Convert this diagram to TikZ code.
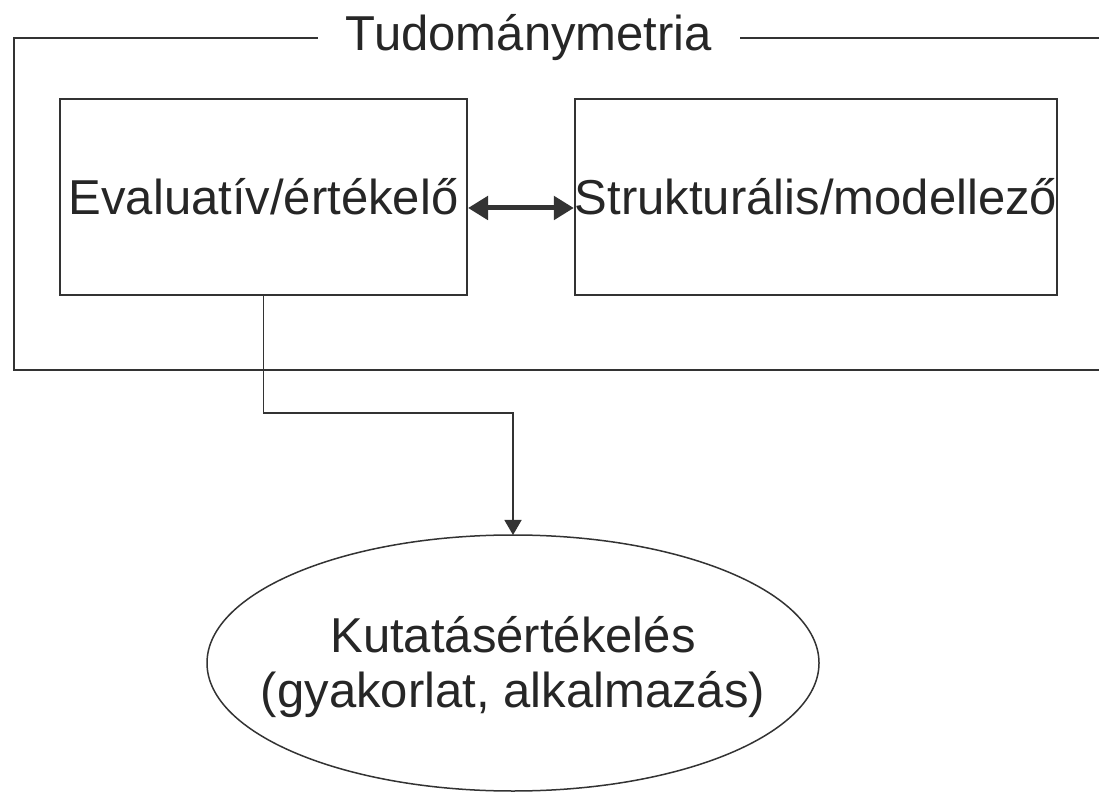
\documentclass[tikz,border=0pt]{standalone}
\usepackage{fontspec}
\setmainfont{Liberation Sans}
\usetikzlibrary{arrows.meta}
\begin{document}
\begin{tikzpicture}[
    every node/.style={font=\fontsize{27.9}{31.3}\selectfont, text=black!85},
    line/.style={draw=black!80, line width=0.04cm},
    box/.style={line, minimum height=3.92cm, inner sep=0pt},
    dbl/.style={draw=black!80, line width=0.1cm, {Triangle[length=0.4cm,width=0.46cm]}-{Triangle[length=0.4cm,width=0.46cm]}},
    conn/.style={draw=black!80, line width=0.03cm, -{Triangle[length=0.3cm,width=0.34cm]}}
  ]
    \useasboundingbox (0,0) rectangle (21.98,15.82);

    % frame with title
    \node[inner xsep=0.56cm, inner ysep=0pt] (tm) at (10.58,15.06) {Tudománymetria};
    \draw[line] (tm.west) -- (0.28,15.06) -- (0.28,8.42) -- (21.98,8.42);
    \draw[line] (tm.east) -- (21.98,15.06);

    % the two boxes
    \node[box, minimum width=8.14cm] (ev) at (5.27,11.88) {Evaluatív/értékelő};
    \node[box, minimum width=9.64cm] (st) at (16.32,11.88) {Strukturális/modellező};
    \draw[dbl] ([yshift=-0.22cm]ev.east) -- ([yshift=-0.22cm]st.west);

    % practice
    \node[align=center, inner sep=0pt] (kut) at (10.26,2.48) {Kutatásértékelés\\(gyakorlat, alkalmazás)};
    \draw[line, line width=0.03cm] (10.26,2.56) ellipse [x radius=6.12cm, y radius=2.56cm];
    \coordinate (kuttop) at (10.26,5.12);
    \draw[conn] (ev.south) -- ++(0,-2.34) -| (kuttop);

\end{tikzpicture}
\end{document}
